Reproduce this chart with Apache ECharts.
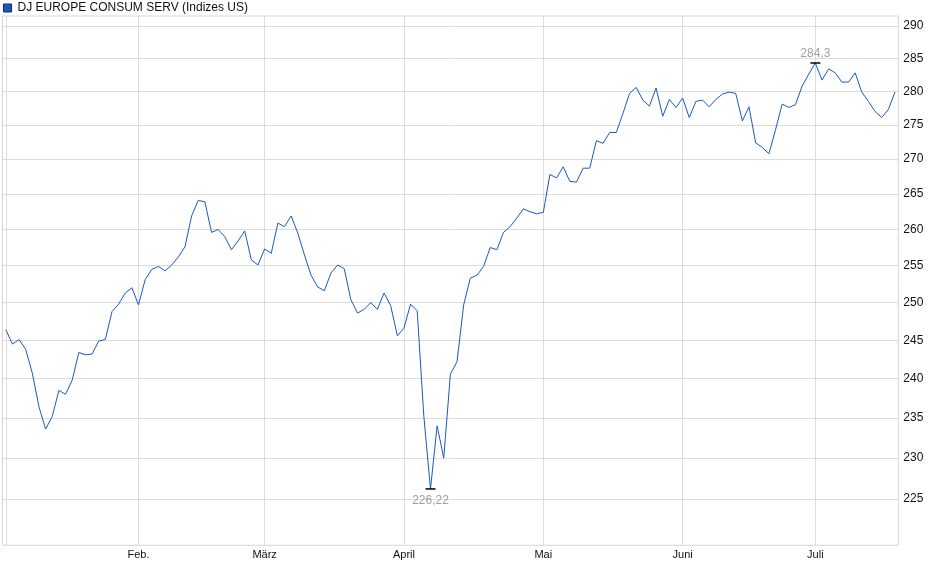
<!DOCTYPE html>
<html>
<head>
<meta charset="utf-8">
<script src="https://cdn.jsdelivr.net/npm/echarts@6/dist/echarts.min.js"></script>
<style>
html,body{margin:0;padding:0;background:#fff;}
#chart{width:940px;height:579px;}
</style>
</head>
<body>
<div id="chart"></div>
<script>
// Trading days (NYSE calendar) 2 Jan 2025 – 18 Jul 2025
const startDate = '2025-01-02';
const endDate = '2025-07-18';
const holidays = ['2025-01-09','2025-01-20','2025-02-17','2025-04-18','2025-05-26','2025-06-19','2025-07-04'];

const seriesName = 'DJ EUROPE CONSUM SERV (Indizes US)';

const values = [
  246.4, 244.5, 245.1, 243.8, 240.7, 236.4, 233.6, 235.2, 238.5, 238.0,
  239.8, 243.4, 243.1, 243.2, 244.9, 245.1, 248.8, 249.8, 251.3, 252.0,
  249.7, 253.1, 254.5, 254.9, 254.3, 255.1, 256.2, 257.6, 261.9, 264.1,
  263.9, 259.6, 260.0, 259.0, 257.2, 258.4, 259.8, 255.8, 255.1, 257.3,
  256.7, 260.9, 260.4, 261.9, 259.5, 256.5, 253.7, 252.1, 251.6, 254.0,
  255.1, 254.6, 250.4, 248.6, 249.1, 250.0, 249.1, 251.3, 249.6, 245.6,
  246.6, 249.8, 248.9, 235.2, 226.22, 234.0, 230.0, 240.6, 242.2, 249.7,
  253.3, 253.7, 254.9, 257.5, 257.2, 259.6, 260.4, 261.6, 262.9, 262.5,
  262.2, 262.4, 267.8, 267.3, 268.9, 266.8, 266.7, 268.7, 268.7, 272.7,
  272.3, 273.9, 273.9, 276.7, 279.7, 280.6, 278.7, 277.8, 280.5, 276.3,
  278.8, 277.6, 279.0, 276.1, 278.5, 278.7, 277.7, 278.8, 279.6, 279.9,
  279.7, 275.6, 277.7, 272.4, 271.7, 270.8, 274.3, 278.1, 277.6, 278.0,
  280.8, 282.6, 284.3, 281.7, 283.4, 282.8, 281.4, 281.4, 282.8, 279.9,
  278.5, 277.0, 276.1, 277.3, 279.9
];

const monthNames = ['Jan.','Feb.','März','April','Mai','Juni','Juli','Aug.','Sep.','Okt.','Nov.','Dez.'];
const yTicks = [225, 230, 235, 240, 245, 250, 255, 260, 265, 270, 275, 280, 285, 290];

// build trading-day categories
const dates = [];
(function () {
  const d = new Date(startDate + 'T12:00:00Z');
  const e = new Date(endDate + 'T12:00:00Z');
  while (d <= e) {
    const wd = d.getUTCDay();
    const s = d.toISOString().slice(0, 10);
    if (wd !== 0 && wd !== 6 && holidays.indexOf(s) < 0) dates.push(s);
    d.setUTCDate(d.getUTCDate() + 1);
  }
})();

const monthStartIdx = [];
for (let i = 1; i < dates.length; i++) {
  if (dates[i].slice(5, 7) !== dates[i - 1].slice(5, 7)) monthStartIdx.push(i);
}

const seriesData = values.map((v, i) => [i, v]);

const fontFam = '"Liberation Sans", Arial, sans-serif';
const chart = echarts.init(document.getElementById('chart'), null, { renderer: 'canvas' });

chart.setOption({
  animation: false,
  backgroundColor: '#ffffff',
  textStyle: { fontFamily: fontFam },
  legend: {
    left: 0, top: 0, padding: [2, 2, 2, 3],
    itemWidth: 8, itemHeight: 8, itemGap: 4,
    icon: 'rect',
    itemStyle: { borderColor: '#1a2a55', borderWidth: 1 },
    textStyle: { fontSize: 12, color: '#111', fontFamily: fontFam, padding: [0, 0, 0, 1] },
    data: [seriesName]
  },
  grid: {
    left: 2.5, right: 41.7, top: 16, bottom: 33.7,
    show: true, borderColor: '#d6d6d6', borderWidth: 1
  },
  xAxis: {
    type: 'value',
    min: -0.5,
    max: values.length - 0.5,
    axisLine: { show: false },
    axisTick: { show: false, customValues: [0].concat(monthStartIdx) },
    splitLine: { show: true, lineStyle: { color: '#dcdcdc', width: 1 } },
    axisLabel: {
      customValues: monthStartIdx,
      fontSize: 11, color: '#111', margin: 4, fontFamily: fontFam,
      formatter: function (v) {
        const d = dates[Math.round(v)];
        return d ? monthNames[parseInt(d.slice(5, 7), 10) - 1] : '';
      }
    }
  },
  yAxis: {
    type: 'log',
    logBase: 10,
    position: 'right',
    min: 219.48,
    max: 291.56,
    axisLine: { show: false },
    axisTick: { show: false, customValues: yTicks },
    splitLine: { show: true, lineStyle: { color: '#dcdcdc', width: 1 } },
    axisLabel: {
      customValues: yTicks,
      fontSize: 12, color: '#111', margin: 5, fontFamily: fontFam,
      formatter: function (v) { return String(Math.round(v)); }
    }
  },
  series: [{
    name: seriesName,
    type: 'line',
    data: seriesData,
    showSymbol: false,
    symbol: 'none',
    color: '#1b58c4',
    lineStyle: { color: '#1b58c4', width: 1 },
    markPoint: {
      symbol: 'rect',
      symbolSize: [10, 1.5],
      itemStyle: { color: '#000' },
      label: {
        show: true,
        color: '#a0a0a0',
        fontSize: 12,
        fontFamily: fontFam,
        formatter: function (p) { return String(p.value).replace('.', ','); }
      },
      data: [
        { type: 'min', valueDim: 'y', label: { position: 'bottom', distance: 5 } },
        { type: 'max', valueDim: 'y', label: { position: 'top', distance: 3 } }
      ]
    }
  }]
});
</script>
</body>
</html>
